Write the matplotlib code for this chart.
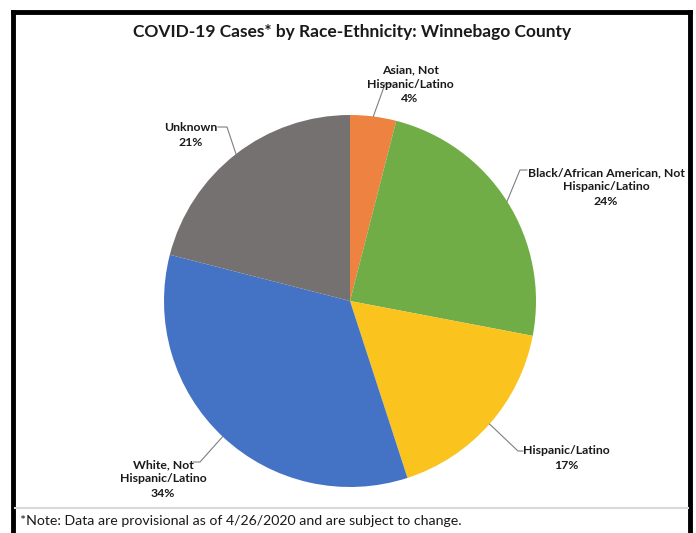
import matplotlib
matplotlib.use("Agg")
import matplotlib.pyplot as plt
import numpy as np

# data (clockwise from 12 o'clock)
categories = ["Asian, Not\nHispanic/Latino", "Black/African American, Not\nHispanic/Latino",
              "Hispanic/Latino", "White, Not\nHispanic/Latino", "Unknown"]
shares = [4, 24, 17, 34, 21]
colors = ["#EE8240", "#70AD47", "#FAC31E", "#4472C4", "#767171"]

title = "COVID-19 Cases* by Race-Ethnicity: Winnebago County"
note = "*Note: Data are provisional as of 4/26/2020 and are subject to change."

W, H = 696, 533
plt.rcParams["font.family"] = ["Lato", "DejaVu Sans"]

fig = plt.figure(figsize=(W / 100, H / 100), dpi=100)
ax = fig.add_axes([0, 0, 1, 1])

def py(y):
  # pixel row -> data y
  return H - y

cx, cy, r = 350, 301, 186
wedges, _ = ax.pie(shares, colors=colors, startangle=90, counterclock=False,
                   center=(cx, py(cy)), radius=r, wedgeprops=dict(linewidth=0))
ax.set_xlim(0, W)
ax.set_ylim(0, H)
ax.set_aspect("auto")
ax.axis("off")

# label centre, elbow (where leader meets stub), stub end
label_pos = [(410, 84), (606, 187), (566, 458), (163, 479), (191, 135)]
elbows = [((385, 84), (392, 84)), ((520, 170), (527, 170)), ((518, 451), (523, 451)),
          ((200, 462), (193, 462)), ((227, 127), (218, 127))]

for w, cat, s, (lx, ly), (e1, e2) in zip(wedges, categories, shares, label_pos, elbows):
  ang = np.deg2rad((w.theta1 + w.theta2) / 2)
  ex = cx + r * np.cos(ang)
  ey = py(cy) + r * np.sin(ang)
  xs = [ex, e1[0], e2[0]]
  ys = [ey, py(e1[1]), py(e2[1])]
  ax.plot(xs, ys, color="#7F7F7F", lw=0.8)
  ax.text(lx, py(ly), f"{cat}\n{s}%", ha="center", va="center", fontsize=8.8,
          fontweight="bold", color="#1a1a1a", linespacing=1.4)

ax.text(352, py(32), title, ha="center", va="center", fontsize=12.5,
        fontweight="bold", color="#1a1a1a")
ax.text(20, py(521), note, ha="left", va="center", fontsize=10.2, color="#1a1a1a")

# frame and note separator
ax.plot([13, 13], [py(12), py(540)], color="black", lw=3.5, solid_capstyle="projecting")
ax.plot([690, 690], [py(12), py(540)], color="black", lw=3.5, solid_capstyle="projecting")
ax.plot([13, 690], [py(12), py(12)], color="black", lw=3.5, solid_capstyle="projecting")
ax.plot([15, 688], [py(508), py(508)], color="#D9D9D9", lw=1.5)

fig.savefig("out.png", dpi=100)
